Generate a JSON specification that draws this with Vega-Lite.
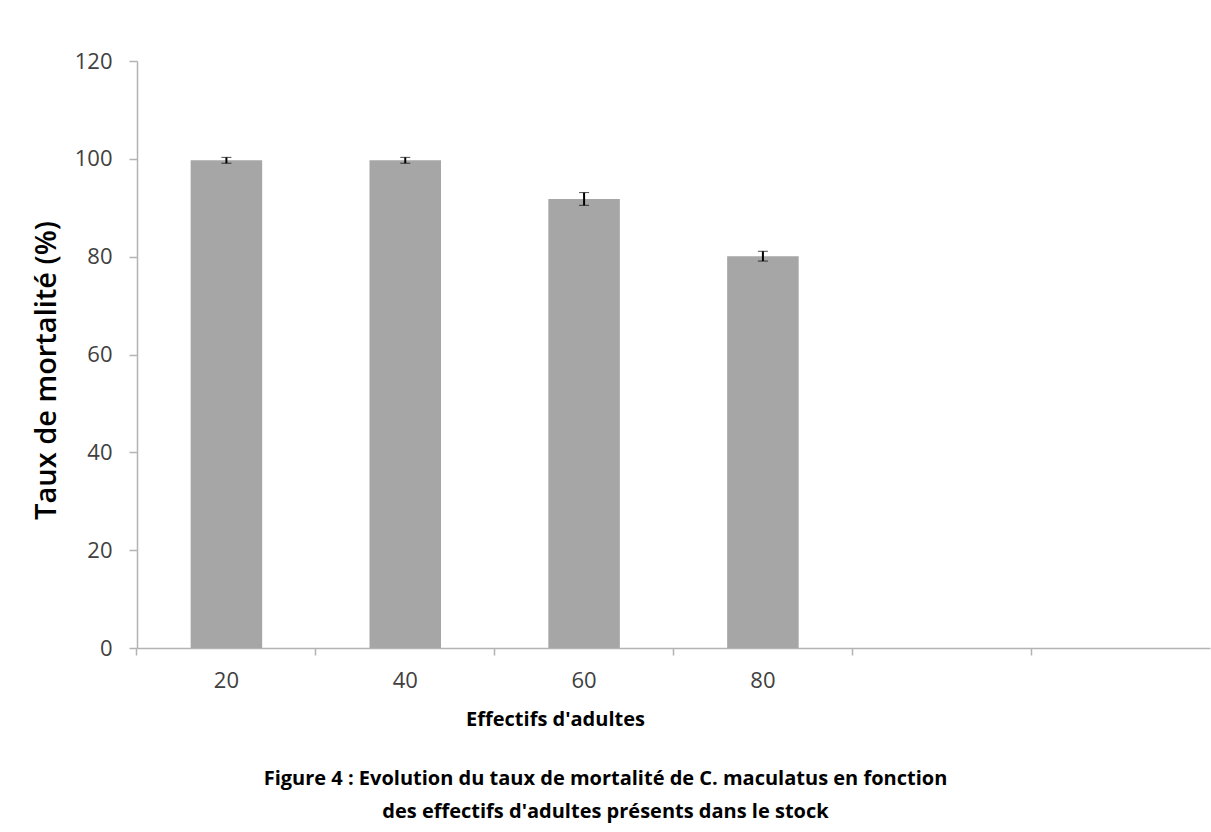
{
  "$schema": "https://vega.github.io/schema/vega-lite/v6.json",
  "autosize": "none",
  "width": 1073,
  "height": 587,
  "padding": {"left": 137, "top": 61, "right": 1, "bottom": 184},
  "background": "white",
  "config": {
    "view": {"stroke": null},
    "font": "Open Sans"
  },
  "title": {
    "text": ["Figure 4 : Evolution du taux de mortalité  de C. maculatus en fonction", "des effectifs d'adultes présents dans le stock"],
    "orient": "bottom",
    "anchor": "middle",
    "dx": -68,
    "offset": 40,
    "fontSize": 20,
    "fontWeight": "bold",
    "font": "Open Sans",
    "color": "#000000",
    "lineHeight": 33
  },
  "data": {
    "values": [
      {"effectif": "20", "taux": 99.7, "erreur": 0.6},
      {"effectif": "40", "taux": 99.7, "erreur": 0.6},
      {"effectif": "60", "taux": 91.8, "erreur": 1.3},
      {"effectif": "80", "taux": 80.1, "erreur": 1.0}
    ]
  },
  "resolve": {"axis": {"x": "independent"}},
  "layer": [
    {
      "mark": {"type": "bar", "color": "#a6a6a6"},
      "encoding": {
        "x": {
          "field": "effectif",
          "type": "nominal",
          "sort": null,
          "scale": {"domain": ["20", "40", "60", "80", "", " "], "paddingInner": 0.6, "paddingOuter": 0.3},
          "axis": {
            "orient": "bottom",
            "bandPosition": -0.75,
            "labels": false,
            "title": null,
            "domainColor": "#b3b3b3",
            "domainWidth": 1.5,
            "tickColor": "#b3b3b3",
            "tickWidth": 1.5,
            "tickSize": 7
          }
        },
        "y": {
          "field": "taux",
          "type": "quantitative",
          "title": "Taux de mortalité (%)",
          "scale": {"domain": [0, 120], "nice": false},
          "axis": {
            "values": [0, 20, 40, 60, 80, 100, 120],
            "grid": false,
            "domainColor": "#b3b3b3",
            "domainWidth": 1.5,
            "tickColor": "#b3b3b3",
            "tickWidth": 1.5,
            "tickSize": 8,
            "labelPadding": 17,
            "labelFontSize": 22,
            "labelColor": "#404040",
            "labelFont": "Open Sans",
            "titleFontSize": 29,
            "titleFontWeight": 600,
            "titleColor": "#000000",
            "titleFont": "Open Sans",
            "titleY": 309,
            "titlePadding": 13
          }
        }
      }
    },
    {
      "mark": {"type": "errorbar", "ticks": {"size": 10, "color": "#000000", "strokeWidth": 2}, "rule": {"color": "#000000", "strokeWidth": 2}},
      "encoding": {
        "x": {
          "field": "effectif",
          "type": "nominal",
          "sort": null,
          "axis": {
            "orient": "bottom",
            "domain": false,
            "ticks": false,
            "labelPadding": 22,
            "labelFontSize": 22,
            "labelColor": "#404040",
            "labelFont": "Open Sans",
            "labelAngle": 0,
            "title": "Effectifs d'adultes",
            "titleFontSize": 20,
            "titleFontWeight": "bold",
            "titleColor": "#000000",
            "titleFont": "Open Sans",
            "titleX": 418,
            "titlePadding": 18
          }
        },
        "y": {"field": "taux", "type": "quantitative", "title": "Taux de mortalité (%)"},
        "yError": {"field": "erreur"}
      }
    }
  ]
}
